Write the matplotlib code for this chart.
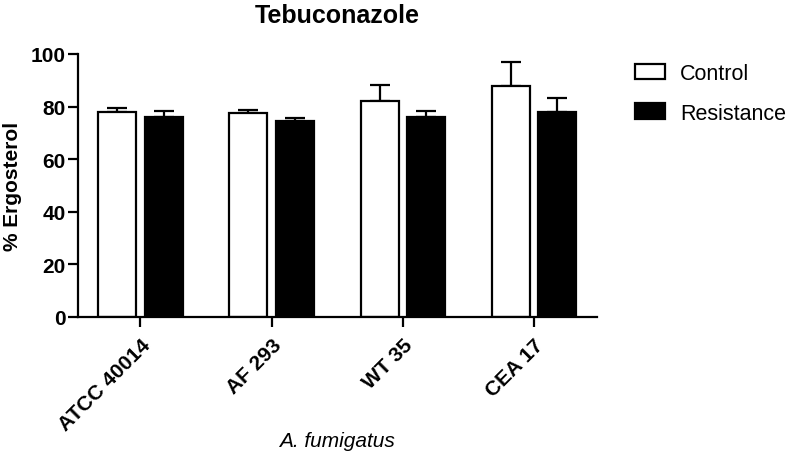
import numpy as np
import matplotlib.pyplot as plt

plt.rcParams['font.family'] = ['Liberation Sans', 'DejaVu Sans']

strains = ['ATCC 40014', 'AF 293', 'WT 35', 'CEA 17']
control = [78.0, 77.7, 82.2, 87.8]
control_err = [1.6, 1.1, 6.0, 9.2]
resistance = [76.0, 74.5, 76.0, 78.0]
resistance_err = [2.5, 1.3, 2.3, 5.3]
series = ['Control', 'Resistance']

fig = plt.figure(figsize=(7.93, 4.64), dpi=100)
ax = fig.add_axes([78/793, 1 - 318/464, (597 - 78)/793, (318 - 55)/464])

x = np.arange(len(strains))
w = 0.29
off = 0.177
lw = 1.6

ax.bar(x - off, control, w, color='white', edgecolor='black', linewidth=lw,
       label=series[0], zorder=2)
ax.errorbar(x - off, control, yerr=[np.zeros(4), control_err], fmt='none',
            ecolor='black', elinewidth=lw, capsize=7, capthick=lw, zorder=1)
ax.bar(x + off, resistance, w, color='black', edgecolor='black', linewidth=lw,
       label=series[1], zorder=2)
ax.errorbar(x + off, resistance, yerr=[np.zeros(4), resistance_err], fmt='none',
            ecolor='black', elinewidth=lw, capsize=7, capthick=lw, zorder=1)

ax.set_xlim(-0.475, 3.48)
ax.set_ylim(0, 100)
ax.set_yticks([0, 20, 40, 60, 80, 100])
ax.set_xticks(x)
ax.set_xticklabels(strains, rotation=45, ha='right', rotation_mode='anchor',
                   fontsize=15, fontweight='bold')
for lab in ax.get_yticklabels():
    lab.set_fontsize(15)
    lab.set_fontweight('bold')

for s in ['top', 'right']:
    ax.spines[s].set_visible(False)
for s in ['left', 'bottom']:
    ax.spines[s].set_linewidth(lw)
ax.tick_params(width=lw, length=7, color='black', pad=2)
ax.tick_params(axis='x', pad=6)

ax.set_ylabel('% Ergosterol', fontsize=15, fontweight='bold', labelpad=6)
fig.text(337/793, 1 - 442/464, 'A. fumigatus', ha='center', va='center',
         fontsize=15, fontstyle='italic')
fig.text(337/793, 1 - 16/464, 'Tebuconazole', ha='center', va='center',
         fontsize=18, fontweight='bold')

ax.legend(loc='upper left', bbox_to_anchor=(1.036, 1.039), frameon=False,
          fontsize=15.5, handlelength=1.4, handleheight=0.75, handletextpad=0.7,
          labelspacing=0.87)

fig.savefig('out.png', dpi=100)
